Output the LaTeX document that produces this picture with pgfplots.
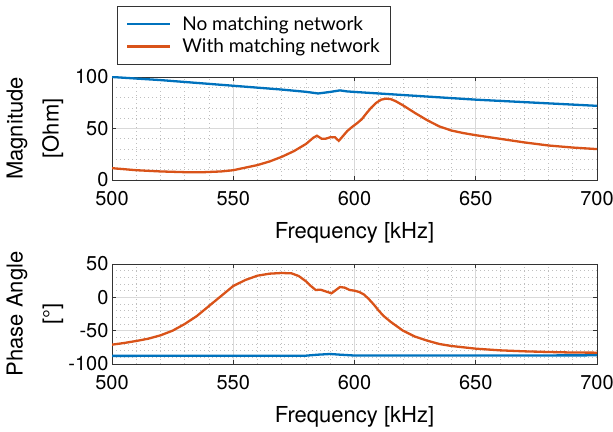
\documentclass[border=0pt]{standalone}
\usepackage{fontspec}
\setmainfont{TeX Gyre Heros}
\newfontfamily\legfont{Lato}
\usepackage{pgfplots}
\pgfplotsset{compat=1.18}
\definecolor{mblue}{RGB}{0,114,189}
\definecolor{morange}{RGB}{217,83,25}
\pgfplotsset{
 myax/.style={
   scale only axis, width=485bp, anchor=south west,
   xmin=500,xmax=700, xtick={500,550,...,700}, minor x tick num=4,
   grid=both,
   major grid style={black!15, line width=0.6pt},
   minor grid style={black!25, dash pattern=on 0.8bp off 3.2bp, line width=0.6pt},
   axis line style={black!80, line width=0.6pt},
   tick style={black!80, line width=0.6pt},
   major tick length=4bp, minor tick length=0pt,
   tick align=inside,
   ticklabel style={font=\fontsize{20bp}{24bp}\selectfont},
   xticklabel style={yshift=-8bp},
   label style={font=\fontsize{22bp}{36bp}\selectfont},
   xlabel style={yshift=-10bp},
   /pgf/number format/assume math mode=true,
   xlabel={Frequency [kHz]},
   every axis plot/.append style={line width=2.3bp},
   ylabel style={align=center, at={(axis description cs:-0.159,0.5)}, anchor=center},
 }
}
\begin{document}
\begin{tikzpicture}
\useasboundingbox (0,0) rectangle (613bp,432bp);
\begin{axis}[myax, at={(112bp,252bp)}, height=103bp,
  ymin=0, ymax=100, ytick={0,50,100}, minor y tick num=4,
  ylabel={Magnitude\\\relax [Ohm]},
  legend style={at={(axis description cs:0.01,1.689)}, anchor=north west,
    draw=black!80, font=\legfont\fontsize{19bp}{22bp}\selectfont,
    inner xsep=9bp, inner ysep=8bp, row sep=3bp},
  legend cell align=left,
  legend image code/.code={\draw[#1, line width=2.3bp] (0bp,0bp) -- (43bp,0bp); \path (52bp,0bp);},
]
\addplot[mblue] coordinates {(500,100) (520,97) (550,91.5) (570,87.8) (580,85.6) (585,84) (590,85.5) (594,87) (597,86) (600,85.5) (620,82.5) (650,78) (675,75) (700,72)};
\addlegendentry{No matching network}
\addplot[morange] coordinates {(500,11.5) (510,9.5) (520,8.3) (530,7.6) (537,7.5) (545,8.3) (550,9.5) (555,12) (560,14.5) (565,18) (570,22.5) (575,28) (580,35) (583,41) (584.5,43) (586.5,40) (588,40) (590,41.5) (592,41.5) (593.5,38) (595,42) (597,47.5) (599,51.5) (601,55) (603,59) (605,65) (607,70.5) (609,75) (611,78) (613,79) (615,78.5) (617,76.5) (620,72.5) (625,65) (630,58) (635,52) (640,48) (645,45.5) (650,43.5) (660,40) (670,36.5) (680,33.5) (690,31.5) (700,30)};
\addlegendentry{With matching network}
\end{axis}
\begin{axis}[myax, at={(112bp,68bp)}, height=100bp,
  ymin=-100, ymax=50, ytick={-100,-50,0,50}, minor y tick num=4,
  ylabel={Phase Angle\\\relax [°]},
]
\addplot[mblue] coordinates {(500,-87.8) (540,-87.7) (580,-87.5) (585,-86) (590,-85) (594,-86) (600,-87.3) (650,-87.3) (700,-87)};
\addplot[morange] coordinates {(500,-71) (505,-68.5) (510,-65.5) (515,-62) (520,-57) (525,-50) (530,-40) (535,-28) (540,-13) (545,2) (550,17) (555,26) (560,32.5) (565,35.5) (570,36.5) (574,36) (577,32) (580,24) (582,17) (584,11) (586,11.5) (588,9) (590.5,6) (592,10) (594,15.5) (596,14.5) (598,11) (600,10) (602,8) (604,4) (606,-3) (608,-11) (610,-20) (612,-28) (615,-37) (620,-50) (625,-59) (630,-65) (635,-70) (640,-73) (650,-77) (660,-79.5) (670,-81) (680,-82) (690,-82.8) (700,-83)};
\end{axis}
\end{tikzpicture}
\end{document}
